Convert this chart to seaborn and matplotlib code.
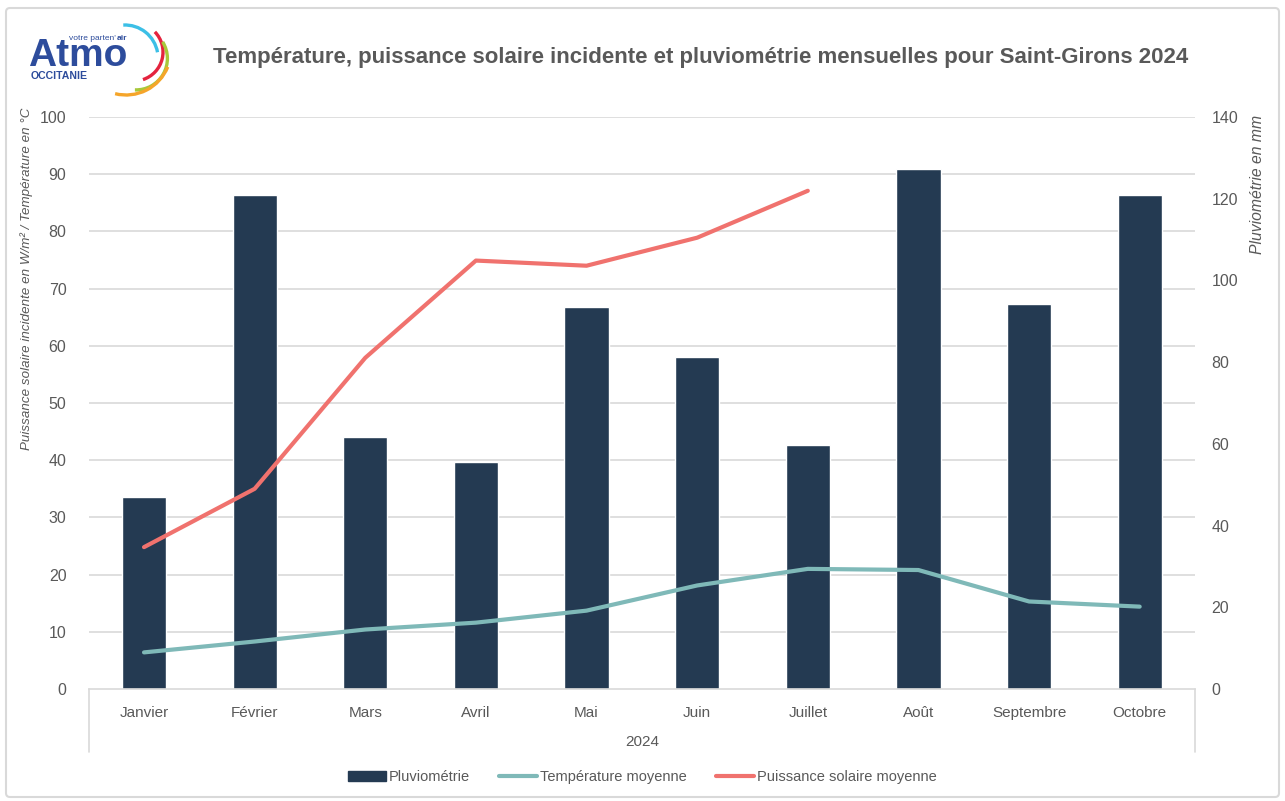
import numpy as np
import pandas as pd
import matplotlib
matplotlib.use("Agg")
import matplotlib.pyplot as plt
import seaborn as sns
from matplotlib.patches import Arc, FancyBboxPatch, Patch
from matplotlib.lines import Line2D

# ---------------------------------------------------------
# Data
# ---------------------------------------------------------
months = ["Janvier", "Février", "Mars", "Avril", "Mai", "Juin",
          "Juillet", "Août", "Septembre", "Octobre"]
pluvio_mm = [47.0, 120.8, 61.8, 55.6, 93.4, 81.3, 59.8, 127.2, 94.3, 121.0]
temp_moy = [6.4, 8.3, 10.4, 11.6, 13.7, 18.1, 21.0, 20.8, 15.3, 14.4]
solaire_moy = [24.8, 35.0, 57.9, 74.9, 74.0, 78.9, 87.1, np.nan, np.nan, np.nan]
year_label = "2024"

df = pd.DataFrame({"mois": months, "pluvio": pluvio_mm,
                   "temp": temp_moy, "solaire": solaire_moy})
df["x"] = np.arange(len(months))

C_BAR = "#243a52"
C_TEMP = "#7fb9b8"
C_SOL = "#f0726e"
C_TXT = "#595959"
C_GRID = "#d9d9d9"
C_LOGO = "#2d4c9c"

sns.set_theme(style="white")
plt.rcParams["font.family"] = ["Liberation Sans", "DejaVu Sans"]

W, H = 1285, 801
fig = plt.figure(figsize=(W / 100, H / 100), dpi=100)
ax = fig.add_axes([88.7 / W, 1 - 689 / H, (1195 - 88.7) / W, (689 - 117) / H])

# ---------------------------------------------------------
# Bars (rainfall, right axis)
# ---------------------------------------------------------
sns.barplot(data=df, x="x", y="pluvio", color=C_BAR, width=0.4,
            saturation=1, ax=ax, zorder=2, native_scale=True)
ax.set_ylim(0, 140)
ax.set_xlim(-0.5, len(months) - 0.5)
# gridlines follow the left (temperature) scale: every 10 units
for v in np.arange(10, 101, 10):
    ax.axhline(v * 1.4, color=C_GRID, lw=1.2, zorder=0)
ax.set_xticks(df["x"])
ax.set_xticklabels(months)
ax.set_xlabel("")
ax.set_ylabel("")
for s in ["top", "left", "right"]:
    ax.spines[s].set_visible(False)
ax.spines["bottom"].set_color(C_GRID)
ax.spines["bottom"].set_linewidth(1.2)

# ---------------------------------------------------------
# Lines (temperature + solar, left axis)
# ---------------------------------------------------------
ax2 = ax.twinx()
sns.lineplot(data=df, x="x", y="temp", color=C_TEMP, lw=3, ax=ax2, sort=False)
sns.lineplot(data=df, x="x", y="solaire", color=C_SOL, lw=3, ax=ax2, sort=False)
ax2.set_ylim(0, 100)
ax2.set_yticks(np.arange(0, 101, 10))
ax2.yaxis.tick_left()
ax2.set_xlabel("")
ax2.set_ylabel("")
ax2.tick_params(axis="y", length=0, pad=16, labelsize=11.5, labelcolor=C_TXT)
for s in ax2.spines.values():
    s.set_visible(False)

ax.yaxis.tick_right()
ax.set_yticks(np.arange(0, 141, 20))
ax.tick_params(axis="y", which="both", left=False, labelleft=False,
               right=False, labelright=True, length=0, pad=12,
               labelsize=11.5, labelcolor=C_TXT)
ax.tick_params(axis="x", length=0, pad=12, labelsize=11, labelcolor=C_TXT)

# axis titles
fig.text(27 / W, 1 - 279 / H,
         "Puissance solaire incidente en W/m² / Température en °C",
         rotation=90, ha="center", va="center", style="italic",
         fontsize=9.6, color=C_TXT)
fig.text(1258 / W, 1 - 184 / H, "Pluviométrie en mm", rotation=90,
         ha="center", va="center", style="italic", fontsize=11.3, color=C_TXT)

# multi-level category box + year
ax.plot([0, 0], [0, -63 / 572], transform=ax.transAxes, color=C_GRID,
        lw=1.2, clip_on=False)
ax.plot([1, 1], [0, -63 / 572], transform=ax.transAxes, color=C_GRID,
        lw=1.2, clip_on=False)
ax.text(0.5, -53 / 572, year_label, transform=ax.transAxes, ha="center",
        va="center", fontsize=11, color=C_TXT)

# title
fig.text(701 / W, 1 - 58 / H,
         "Température, puissance solaire incidente et pluviométrie mensuelles pour Saint-Girons 2024",
         ha="center", va="center", fontsize=16, fontweight="bold", color=C_TXT)

# legend
handles = [Patch(facecolor=C_BAR, edgecolor=C_BAR),
           Line2D([0], [0], color=C_TEMP, lw=3),
           Line2D([0], [0], color=C_SOL, lw=3)]
fig.legend(handles, ["Pluviométrie", "Température moyenne", "Puissance solaire moyenne"],
           loc="center", bbox_to_anchor=(0.5, 1 - 777 / H), ncol=3, frameon=False,
           fontsize=10.5, handlelength=2.6, handletextpad=0.2, columnspacing=2.0,
           labelcolor=C_TXT)

# ---------------------------------------------------------
# Overlay: border + logo (pixel coordinates, y up)
# ---------------------------------------------------------
ov = fig.add_axes([0, 0, 1, 1], zorder=-1)
ov.set_xlim(0, W)
ov.set_ylim(0, H)
ov.axis("off")
ov.add_patch(FancyBboxPatch((6, 4), W - 12, H - 12,
                            boxstyle="round,pad=0,rounding_size=4",
                            fc="none", ec=C_GRID, lw=1.5))

logo = fig.add_axes([0, 0, 1, 1], zorder=5)
logo.set_xlim(0, W)
logo.set_ylim(0, H)
logo.axis("off")
logo.text(28, H - 66, "Atmo", fontsize=28, fontweight="bold", color=C_LOGO,
          ha="left", va="baseline")
logo.text(31, H - 79, "OCCITANIE", fontsize=7.6, fontweight="bold", color=C_LOGO,
          ha="left", va="baseline")
t_votre = logo.text(69, H - 40, "votre parten'", fontsize=6, color=C_LOGO,
                    ha="left", va="baseline")
fig.canvas.draw()
x_end = logo.transData.inverted().transform(
    t_votre.get_window_extent(fig.canvas.get_renderer()).get_points())[1, 0]
logo.text(x_end + 0.5, H - 40, "air", fontsize=6, fontweight="bold",
          color=C_LOGO, ha="left", va="baseline")
# colored arcs: (cx, cy, radius, theta1, theta2, colour) in pixel coords
for cx, cy, r, t1, t2, col in [(125, 58, 33, 10, 93, "#3cbfe6"),
                               (134, 52, 29, -72, 44, "#e4233e"),
                               (136, 58.5, 31.4, -92, 32, "#a8c83a"),
                               (126, 50, 45, -104, -22, "#f5a52a")]:
    logo.add_patch(Arc((cx, H - cy), 2 * r, 2 * r, theta1=t1, theta2=t2,
                       color=col, lw=2.4))

fig.savefig("out.png", dpi=100, facecolor="white")
